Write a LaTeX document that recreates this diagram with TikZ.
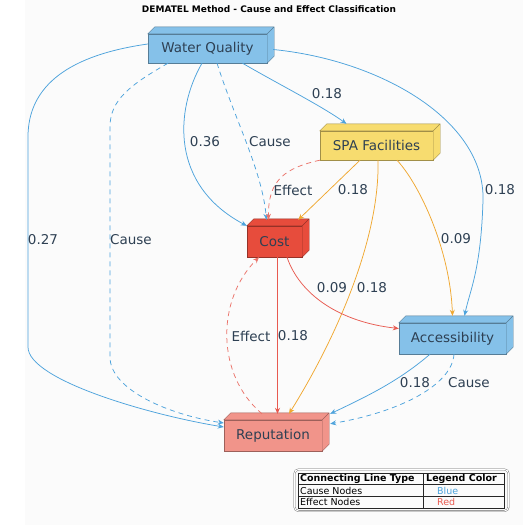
\documentclass[tikz,border=0pt]{standalone}
\usepackage{fontspec}
\setmainfont{DejaVu Sans}
\usetikzlibrary{arrows.meta}

\definecolor{txt}{HTML}{2E4053}
\definecolor{wqblue}{HTML}{85C1E9}
\definecolor{spayel}{HTML}{F7DC6F}
\definecolor{costred}{HTML}{E74C3C}
\definecolor{repsal}{HTML}{F1948A}
\definecolor{bluedge}{HTML}{4DA3DC}
\definecolor{orngedge}{HTML}{F0A830}
\definecolor{rededge}{HTML}{E85A50}
\definecolor{bgrey}{HTML}{FBFBFB}

\tikzset{
  box/.style={draw=#1!65!black, fill=#1, text=txt, inner sep=0pt,
    font=\fontsize{13.5}{16}\selectfont},
  lbl/.style={text=txt, inner sep=0pt, font=\fontsize{13.5}{16}\selectfont},
  tip/.style={-{Stealth[length=6pt,width=5pt]}, line width=0.75pt},
  cause/.style={tip, bluedge},
  causedash/.style={tip, bluedge, dash pattern=on 5pt off 4pt},
  spaline/.style={tip, orngedge},
  effect/.style={tip, rededge},
  effectdash/.style={tip, rededge!85, dash pattern=on 5pt off 4pt},
  legtxt/.style={anchor=west, inner sep=0pt, font=\fontsize{9.5}{11}\selectfont}
}

\begin{document}
\begin{tikzpicture}[x=1pt,y=-1pt]
  \useasboundingbox (0,0) rectangle (523,525);
  \fill[bgrey] (25,0) rectangle (523,525);

  \node (title) at (269,9) [font=\bfseries\fontsize{9}{11}\selectfont] {DEMATEL Method - Cause and Effect Classification};

  \node (wq)   at (207.5,48.5) [box=wqblue,  minimum width=119pt, minimum height=29pt] {Water Quality};
  \node (spa)  at (376.5,145.5) [box=spayel, minimum width=113pt, minimum height=29pt] {SPA Facilities};
  \node (cost) at (274.5,241.5) [box=costred, minimum width=55pt, minimum height=31pt] {Cost};
  \node (acc)  at (452.5,338.5) [box=wqblue, minimum width=107pt, minimum height=31pt] {Accessibility};
  \node (rep)  at (273,435.5)   [box=repsal, minimum width=98pt, minimum height=31pt] {Reputation};

  % depth faces of the boxes
  \foreach \n/\c in {wq/wqblue, spa/spayel, cost/costred, acc/wqblue, rep/repsal}
    \filldraw[fill=\c, draw=\c!65!black] (\n.north west) -- ([shift={(7,-7)}]\n.north west)
      -- ([shift={(7,-7)}]\n.north east) -- ([shift={(7,-7)}]\n.south east)
      -- (\n.south east) -- (\n.north east) -- cycle
      (\n.north east) -- ([shift={(7,-7)}]\n.north east);

  % water quality
  \draw[cause] ([yshift=4.5pt]wq.west) .. controls (70,55) and (28,85) .. (28,137)
    -- (28,347) .. controls (28,380) and (150,415) .. ([yshift=8.5pt]rep.west);
  \node (l027) at (43,240) [lbl] {0.27};
  \draw[causedash] ([xshift=-39.5pt]wq.south) .. controls (130,85) and (110,100) .. (110,127)
    -- (110,357) .. controls (110,390) and (170,415) .. ([yshift=12.5pt]rep.west);
  \node (lc1) at (131,240) [lbl] {Cause};
  \draw[cause] ([xshift=-5.5pt]wq.south) .. controls (175,110) and (170,185) .. (cost.north west);
  \node (l036) at (205,142) [lbl] {0.36};
  \draw[causedash] ([xshift=9.5pt]wq.south) .. controls (235,120) and (262,170) .. ([xshift=-8pt,yshift=6pt]cost.north);
  \node (lc2) at (270,142) [lbl] {Cause};
  \draw[cause] ([xshift=35pt]wq.south) .. controls (280,85) and (320,105) .. ([xshift=-30pt,yshift=7pt]spa.north);
  \node (l018a) at (327,94) [lbl] {0.18};
  \draw[cause] ([xshift=6pt,yshift=-1pt]wq.east) .. controls (380,60) and (485,120) .. (483,200)
    .. controls (481,270) and (470,290) .. ([xshift=12pt,yshift=7pt]acc.north);
  \node (l018b) at (500,190) [lbl] {0.18};

  % spa facilities
  \draw[effectdash] (spa.south west) .. controls (285,168) and (268,180) .. ([xshift=-6pt,yshift=6pt]cost.north);
  \node (le1) at (293,190) [lbl] {Effect};
  \draw[spaline] ([xshift=-16.5pt]spa.south) -- ([xshift=-4pt,yshift=6pt]cost.north east);
  \node (l018c) at (353,190) [lbl] {0.18};
  \draw[spaline] ([xshift=1.5pt]spa.south) .. controls (380,240) and (335,340) .. ([xshift=16pt,yshift=6pt]rep.north);
  \node (l018d) at (372,288) [lbl] {0.18};
  \draw[spaline] ([xshift=20.5pt]spa.south) .. controls (420,185) and (450,250) .. ([yshift=7pt]acc.north);
  \node (l009a) at (456,239) [lbl] {0.09};

  % cost
  \draw[effect] ([xshift=12.5pt]cost.south) .. controls (300,295) and (340,322) .. ([yshift=10pt]acc.west);
  \node (l009b) at (332,288) [lbl] {0.09};
  \draw[effect] ([xshift=3pt]cost.south) .. controls (277.6,300) and (277.4,370) .. ([xshift=4.5pt,yshift=6pt]rep.north);
  \node (l018e) at (293,336) [lbl] {0.18};
  \draw[effectdash] ([xshift=-11pt,yshift=6pt]rep.north) .. controls (216,375) and (216,300) .. ([xshift=-15.5pt]cost.south);
  \node (le2) at (251,336) [lbl] {Effect};

  % accessibility
  \draw[cause] ([xshift=-22.5pt]acc.south) .. controls (400,380) and (370,395) .. ([xshift=8pt,yshift=6pt]rep.north east);
  \node (l018f) at (415,383) [lbl] {0.18};
  \draw[causedash] ([xshift=1.5pt]acc.south) .. controls (452,385) and (400,412) .. ([xshift=8pt,yshift=-4pt]rep.north east);
  \node (lc3) at (469,383) [lbl] {Cause};

  % legend
  \draw[black!60, double=white, double distance=1pt, rounded corners=4pt] (294.5,469.5) rectangle (508.5,511);
  \draw[black!85, line width=0.6pt] (298,473) rectangle (504,508)
    (298,484.5) -- (504,484.5) (298,496) -- (504,496) (423,473) -- (423,508);
  \node (lhead1) at (300,479) [legtxt, font=\bfseries\fontsize{9.5}{11}\selectfont] {Connecting Line Type};
  \node (lhead2) at (426,479) [legtxt, font=\bfseries\fontsize{9.5}{11}\selectfont] {Legend Color};
  \node (lcause) at (300,490.5) [legtxt] {Cause Nodes};
  \node (lblue)  at (437,490.5) [legtxt, text=bluedge] {Blue};
  \node (leff)   at (300,502) [legtxt] {Effect Nodes};
  \node (lred)   at (437,502) [legtxt, text=rededge] {Red};
\end{tikzpicture}
\end{document}
